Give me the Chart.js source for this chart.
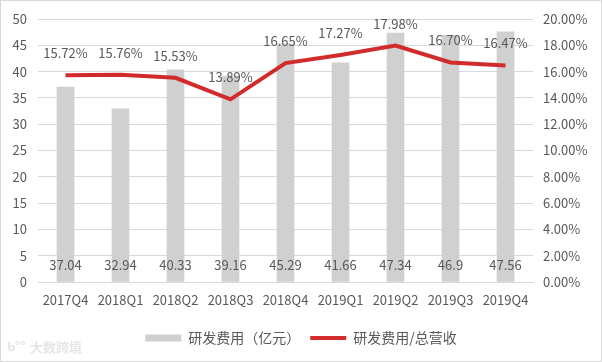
<!DOCTYPE html>
<html>
<head>
<meta charset="utf-8">
<script src="https://cdn.jsdelivr.net/npm/chart.js@4"></script>
<style>
  html, body { margin: 0; padding: 0; background: #fff; }
  #wrap { width: 602px; height: 362px; position: relative; }
</style>
</head>
<body>
<div id="wrap"><canvas id="rdChart" width="602" height="362"></canvas></div>
<script>
const quarters = ['2017Q4', '2018Q1', '2018Q2', '2018Q3', '2018Q4', '2019Q1', '2019Q2', '2019Q3', '2019Q4'];
const rdSpend = [37.04, 32.94, 40.33, 39.16, 45.29, 41.66, 47.34, 46.9, 47.56];
const rdRatio = [15.72, 15.76, 15.53, 13.89, 16.65, 17.27, 17.98, 16.70, 16.47];
const leftTicks = [0, 5, 10, 15, 20, 25, 30, 35, 40, 45, 50];
const rightTicks = [0, 2, 4, 6, 8, 10, 12, 14, 16, 18, 20];

const textColor = '#595959';
const gridColor = '#d9d9d9';
const barColor = '#d0d0d0';
const lineColor = '#d22b2b';
const baseFont = '"Noto Sans CJK SC", "Noto Sans", sans-serif';

// value labels + frame + watermark, drawn after the datasets
const labelPlugin = {
  id: 'rdLabels',
  afterDatasetsDraw(chart) {
    const ctx = chart.ctx;
    const x = chart.scales.x;
    const y = chart.scales.y;
    const y1 = chart.scales.y1;
    ctx.save();
    ctx.font = '13px ' + baseFont;
    ctx.fillStyle = textColor;
    ctx.textAlign = 'center';
    ctx.textBaseline = 'middle';
    rdSpend.forEach((v, i) => {
      ctx.fillText(String(v), x.getPixelForValue(i), y.getPixelForValue(3.3));
    });
    rdRatio.forEach((v, i) => {
      ctx.fillText(v.toFixed(2) + '%', x.getPixelForValue(i), y1.getPixelForValue(v) - 22);
    });
    ctx.restore();
  },
  afterDraw(chart) {
    const ctx = chart.ctx;
    ctx.save();
    ctx.strokeStyle = '#d9d9d9';
    ctx.lineWidth = 1;
    ctx.strokeRect(0.5, 0.5, chart.width - 1, chart.height - 1);
    ctx.font = 'bold 13px ' + baseFont;
    ctx.fillStyle = '#e6e6e6';
    ctx.textBaseline = 'middle';
    ctx.fillText('ᑲ°°', 7, 346);
    ctx.fillText('大数跨境', 30, 347);
    ctx.restore();
  }
};

new Chart(document.getElementById('rdChart').getContext('2d'), {
  type: 'bar',
  data: {
    labels: quarters,
    datasets: [
      {
        type: 'line',
        label: '研发费用/总营收',
        data: rdRatio,
        yAxisID: 'y1',
        borderColor: lineColor,
        backgroundColor: lineColor,
        borderWidth: 4,
        pointRadius: 0,
        tension: 0,
        order: 0
      },
      {
        type: 'bar',
        label: '研发费用（亿元）',
        data: rdSpend,
        yAxisID: 'y',
        backgroundColor: barColor,
        barThickness: 17,
        order: 1
      }
    ]
  },
  options: {
    responsive: false,
    animation: false,
    layout: { padding: { top: 19, left: 0, right: 0, bottom: 7 } },
    plugins: {
      tooltip: { enabled: false },
      legend: {
        position: 'bottom',
        reverse: true,
        labels: {
          usePointStyle: true,
          pointStyleWidth: 36,
          boxHeight: 7,
          padding: 10,
          color: textColor,
          font: { size: 14, family: baseFont },
          generateLabels(chart) {
            return chart.data.datasets.map((ds, i) => ({
              text: ds.label,
              fillStyle: ds.backgroundColor,
              strokeStyle: ds.type === 'line' ? ds.borderColor : ds.backgroundColor,
              lineWidth: ds.type === 'line' ? 4 : 0,
              pointStyle: ds.type === 'line' ? 'line' : 'rect',
              fontColor: textColor,
              datasetIndex: i,
              hidden: false
            }));
          }
        }
      }
    },
    scales: {
      x: {
        grid: { display: false },
        border: { color: gridColor },
        ticks: { color: textColor, font: { size: 13, family: baseFont }, padding: 2, maxRotation: 0 },
        afterFit(scale) { scale.height = 39; }
      },
      y: {
        position: 'left',
        min: 0,
        max: 50,
        afterBuildTicks(scale) { scale.ticks = leftTicks.map(v => ({ value: v })); },
        grid: { color: gridColor, drawTicks: false },
        border: { display: false },
        ticks: { color: textColor, font: { size: 13, family: baseFont }, padding: 11 },
        afterFit(scale) { scale.width = 38; }
      },
      y1: {
        position: 'right',
        min: 0,
        max: 20,
        afterBuildTicks(scale) { scale.ticks = rightTicks.map(v => ({ value: v })); },
        grid: { display: false, drawTicks: false },
        border: { display: false },
        ticks: {
          color: textColor,
          font: { size: 13, family: baseFont },
          padding: 10,
          callback: v => v.toFixed(2) + '%'
        },
        afterFit(scale) { scale.width = 69; }
      }
    }
  },
  plugins: [labelPlugin]
});
</script>
</body>
</html>
